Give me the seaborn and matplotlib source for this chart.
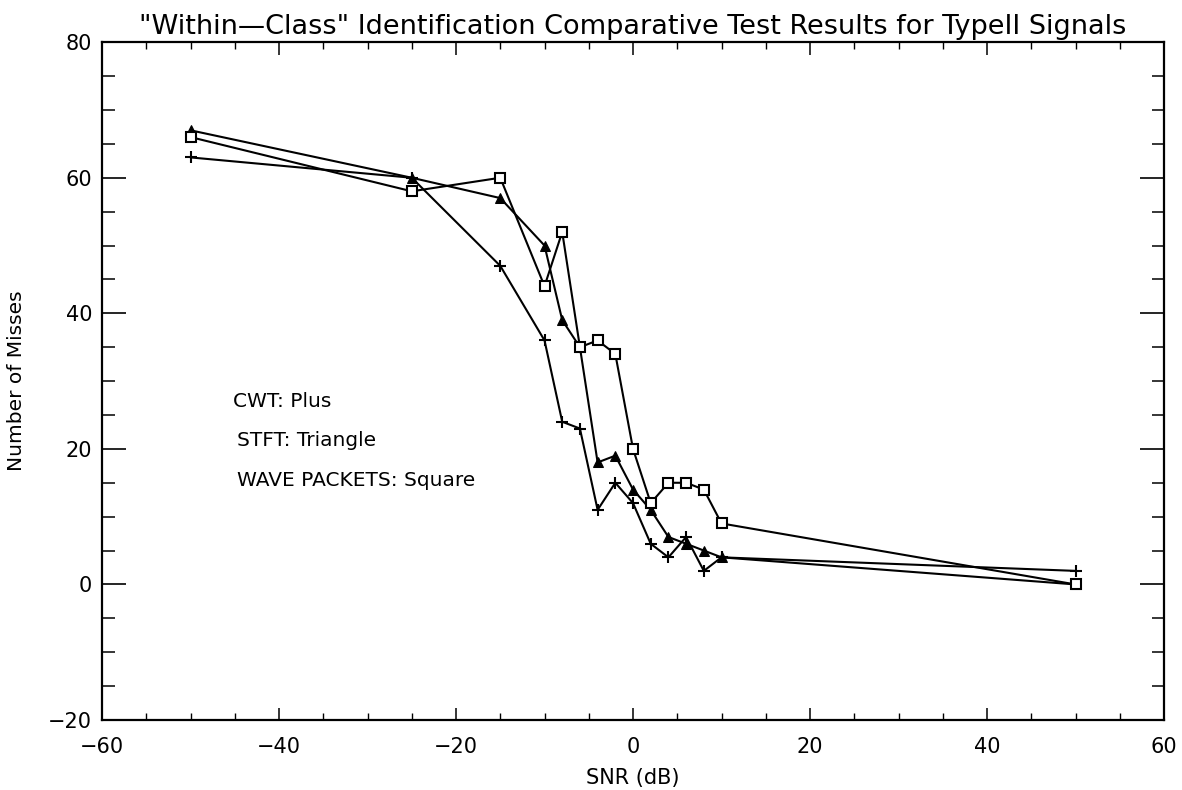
import numpy as np
import pandas as pd
import matplotlib
matplotlib.use("Agg")
import matplotlib.pyplot as plt
from matplotlib.ticker import MultipleLocator
import seaborn as sns

# données
snr = [-50, -25, -15, -10, -8, -6, -4, -2, 0, 2, 4, 6, 8, 10, 50]
cwt = [63, 60, 47, 36, 24, 23, 11, 15, 12, 6, 4, 7, 2, 4, 2]
stft = [67, 60, 57, 50, 39, 35, 18, 19, 14, 11, 7, 6, 5, 4, 0]
wave_packets = [66, 58, 60, 44, 52, 35, 36, 34, 20, 12, 15, 15, 14, 9, 0]

sns.set_style("ticks")
plt.rcParams['font.family'] = ['DejaVu Sans']
plt.rcParams['text.color'] = 'black'
plt.rcParams['axes.labelcolor'] = 'black'
plt.rcParams['xtick.color'] = 'black'
plt.rcParams['ytick.color'] = 'black'

fig = plt.figure(figsize=(11.82, 7.9), dpi=100)
ax = fig.add_axes([0.0863, 0.0886, 0.8985, 0.858])

series = [
    ('CWT', cwt, '+', dict(markersize=9, markeredgewidth=1.5)),
    ('STFT', stft, '^', dict(markersize=6.5, markerfacecolor='black')),
    ('WAVE PACKETS', wave_packets, 's', dict(markersize=6.5, markerfacecolor='white',
                                             markeredgewidth=1.5)),
]
for name, vals, mk, kw in series:
    df = pd.DataFrame({'snr': snr, 'misses': vals})
    sns.lineplot(data=df, x='snr', y='misses', ax=ax, color='black', linewidth=1.5,
                 marker=mk, markeredgecolor='black', sort=False, **kw)

ax.set_xlim(-60, 60)
ax.set_ylim(-20, 80)
ax.xaxis.set_major_locator(MultipleLocator(20))
ax.xaxis.set_minor_locator(MultipleLocator(5))
ax.yaxis.set_major_locator(MultipleLocator(20))
ax.yaxis.set_minor_locator(MultipleLocator(5))
ax.tick_params(axis='x', which='major', direction='in', length=9, width=1.1,
               top=True, labelsize=15, pad=12)
ax.tick_params(axis='x', which='minor', direction='in', length=5, width=1.0, top=True)
ax.tick_params(axis='y', which='major', direction='in', length=17, width=1.2,
               right=True, labelsize=15, pad=7)
ax.tick_params(axis='y', which='minor', direction='in', length=9, width=1.1, right=True)
for sp in ax.spines.values():
    sp.set_linewidth(1.6)
    sp.set_color('black')

ax.set_title('"Within\u2014Class" Identification Comparative Test Results for TypeII Signals',
             fontsize=19.5, pad=6)
ax.set_xlabel('SNR (dB)', fontsize=15, labelpad=8)
ax.set_ylabel('Number of Misses', fontsize=14.5, labelpad=16)

ax.text(-45.2, 27, 'CWT: Plus', fontsize=14.5, va='center')
ax.text(-44.8, 21.2, 'STFT: Triangle', fontsize=14.5, va='center')
ax.text(-44.8, 15.4, 'WAVE PACKETS: Square', fontsize=14.5, va='center')

plt.savefig('out.png', dpi=100)
